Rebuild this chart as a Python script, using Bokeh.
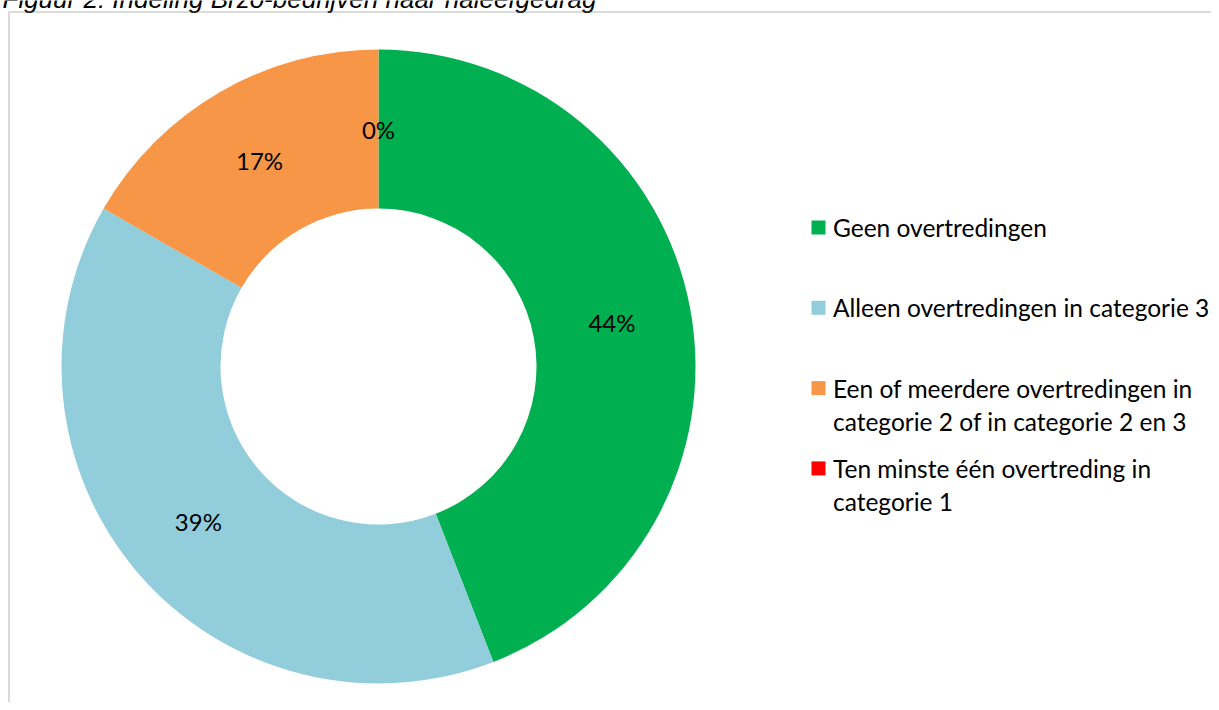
import numpy as np
from bokeh.plotting import figure
from bokeh.models import Range1d, ColumnDataSource, BoxAnnotation
from bokeh.core.properties import value
from bokeh.embed import file_html
from bokeh.resources import INLINE

# ---- data ----
title_text = "Figuur 2: Indeling Brzo-bedrijven naar naleefgedrag"
categories = [
    "Geen overtredingen",
    "Alleen overtredingen in categorie 3",
    "Een of meerdere overtredingen in\ncategorie 2 of in categorie 2 en 3",
    "Ten minste één overtreding in\ncategorie 1",
]
shares = [44.1, 39.2, 16.7, 0.0]
pct_labels = ["44%", "39%", "17%", "0%"]
colors = ["#00B050", "#92CDDC", "#F79646", "#FF0000"]

# ---- layout (figure pixel space, y up) ----
W, H = 1211, 702
CX, CY = 378, 336
R_OUT, R_IN = 317, 158
LABEL_R = (R_OUT + R_IN) / 2
LEG_SW_X = 811
LEG_SW = 14
LEG_TXT_X = 832.5
LEG_TOP = 475          # centre of first legend line (data y)
LEG_PITCH = 80.3
LEG_LINE = 33.5
FONT = "Lato"

p = figure(width=W, height=H, x_range=Range1d(0, W), y_range=Range1d(0, H),
           output_backend="svg", toolbar_location=None, min_border=0,
           x_axis_location=None, y_axis_location=None)
p.grid.visible = False
p.outline_line_color = None
p.background_fill_color = "white"
p.border_fill_color = "white"

# chart frame (left and top edges visible)
p.add_layout(BoxAnnotation(left=8.5, right=W + 50, top=690.5, bottom=-50,
                           fill_alpha=0, line_color="#868686", line_width=2))

# donut
frac = np.array(shares, dtype=float) / sum(shares)
cum = np.concatenate([[0.0], np.cumsum(frac)])
start = np.pi / 2 - 2 * np.pi * cum[:-1]
end = np.pi / 2 - 2 * np.pi * cum[1:]
mid = (start + end) / 2

keep = frac > 0
wedges = ColumnDataSource(dict(start=start[keep], end=end[keep],
                               color=[c for c, k in zip(colors, keep) if k]))
p.annular_wedge(x=CX, y=CY, inner_radius=R_IN, outer_radius=R_OUT,
                start_angle="start", end_angle="end", direction="clock",
                fill_color="color", line_color=None, source=wedges)

lab = ColumnDataSource(dict(x=CX + LABEL_R * np.cos(mid), y=CY + LABEL_R * np.sin(mid),
                            t=pct_labels))
p.text(x="x", y="y", text="t", source=lab, text_font=value(FONT), text_font_size="24px",
       text_align="center", text_baseline="middle", text_color="#000000")

# legend
sw_y, lx, ly, lt = [], [], [], []
for i, cat in enumerate(categories):
    y0 = LEG_TOP - LEG_PITCH * i
    sw_y.append(y0)
    for j, line in enumerate(cat.split("\n")):
        lx.append(LEG_TXT_X)
        ly.append(y0 - LEG_LINE * j)
        lt.append(line)
p.rect(x=LEG_SW_X + LEG_SW / 2, y=sw_y, width=LEG_SW, height=LEG_SW,
       fill_color=colors, line_color=None)
p.text(x=lx, y=ly, text=lt, text_font=value(FONT), text_font_size="24.5px",
       text_align="left", text_baseline="middle", text_color="#000000")

# title (mostly above the visible area, as in the reference)
p.text(x=[2], y=[704], text=[title_text], text_font=value("Liberation Sans"),
       text_font_style="italic", text_font_size="26px", text_align="left",
       text_baseline="alphabetic", text_color="#000000")

open("out.html", "w").write(file_html(p, INLINE))
